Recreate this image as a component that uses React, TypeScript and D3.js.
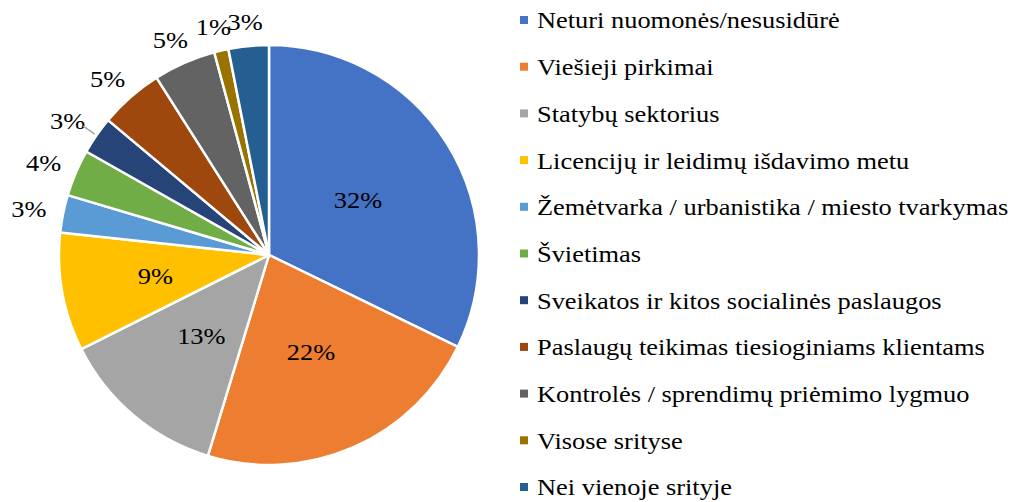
import React from "react";
import * as d3 from "d3";

const categories = [
  "Neturi nuomonės/nesusidūrė",
  "Viešieji pirkimai",
  "Statybų sektorius",
  "Licencijų ir leidimų išdavimo metu",
  "Žemėtvarka / urbanistika / miesto tvarkymas",
  "Švietimas",
  "Sveikatos ir kitos socialinės paslaugos",
  "Paslaugų teikimas tiesioginiams klientams",
  "Kontrolės / sprendimų priėmimo lygmuo",
  "Visose srityse",
  "Nei vienoje srityje",
];

const values = [32.2, 22.5, 12.9, 9.1, 2.9, 3.6, 2.9, 4.9, 4.8, 1.1, 3.1];

const labels = ["32%", "22%", "13%", "9%", "3%", "4%", "3%", "5%", "5%", "1%", "3%"];

const colors = [
  "#4472C4", "#ED7D31", "#A5A5A5", "#FFC000", "#5B9BD5", "#70AD47",
  "#264478", "#9E480E", "#636363", "#997300", "#255E91",
];

const W = 1021;
const H = 502;
const cx = 269;
const cy = 255;
const R = 210;
const FONT = "Liberation Serif";
const SX = 1.1;

export default function App() {
  const pie = d3.pie<number>().sort(null).value((d) => d);
  const arcs = pie(values);
  const arcGen = d3.arc<d3.PieArcDatum<number>>().innerRadius(0).outerRadius(R);

  const legendY = d3
    .scalePoint<number>()
    .domain(d3.range(categories.length))
    .range([20, 487]);

  const ts = { fontFamily: FONT };

  return (
    <svg
      width={W}
      height={H}
      style={{ position: "absolute", left: 0, top: 0, background: "#fff" }}
    >
      <g transform={`translate(${cx},${cy})`}>
        {arcs.map((a, i) => (
          <path
            key={i}
            d={arcGen(a) || ""}
            fill={colors[i]}
            stroke="#fff"
            strokeWidth={2.5}
            strokeLinejoin="round"
          />
        ))}
        {arcs.map((a, i) => {
          const mid = (a.startAngle + a.endAngle) / 2;
          const inside = values[i] > 6;
          let x: number, y: number;
          if (inside) {
            const r = values[i] > 10 ? R * 0.5 : R * 0.55;
            x = Math.sin(mid) * r;
            y = -Math.cos(mid) * r;
          } else {
            x = Math.sin(mid) * 245;
            y = -Math.cos(mid) * 235;
          }
          return (
            <text
              key={i}
              transform={`translate(${x},${y}) scale(${SX},1)`}
              dy="0.35em"
              textAnchor="middle"
              fontSize={24}
              fill="#000"
              style={ts}
            >
              {labels[i]}
            </text>
          );
        })}
        {arcs
          .map((a, i) => ({ a, i }))
          .filter(({ i }) => i === 6)
          .map(({ a, i }) => {
            const mid = (a.startAngle + a.endAngle) / 2;
            return (
              <line
                key={i}
                x1={Math.sin(mid) * (R + 2)}
                y1={-Math.cos(mid) * (R + 2)}
                x2={Math.sin(mid) * 226}
                y2={-Math.cos(mid) * 226}
                stroke="#A6A6A6"
                strokeWidth={1.5}
              />
            );
          })}
      </g>
      <g>
        {categories.map((c, i) => (
          <g key={i} transform={`translate(520,${legendY(i)})`}>
            <rect x={0} y={-4} width={8} height={8} fill={colors[i]} />
            <text
              transform={`translate(17,0) scale(${SX},1)`}
              dy="0.35em"
              fontSize={24}
              fill="#000"
              style={ts}
            >
              {c}
            </text>
          </g>
        ))}
      </g>
    </svg>
  );
}
